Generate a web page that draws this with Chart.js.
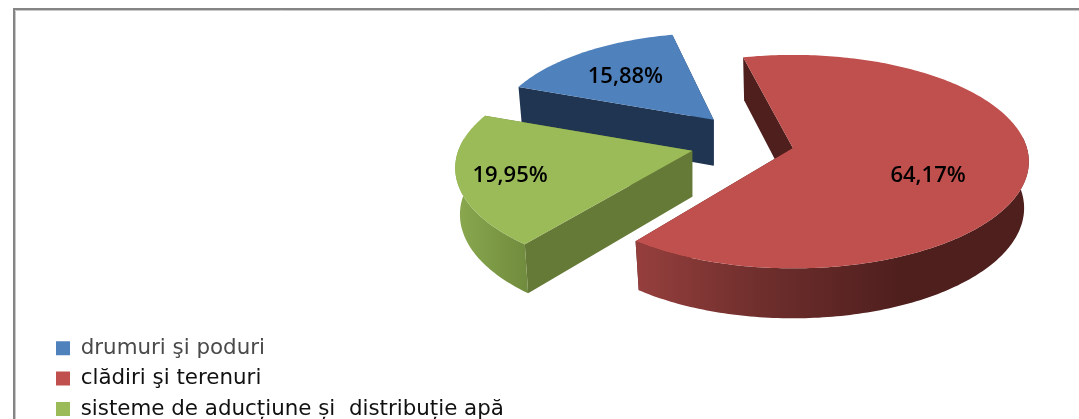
<!DOCTYPE html>
<html>
<head>
<meta charset="utf-8">
<script src="https://cdn.jsdelivr.net/npm/chart.js@4/dist/chart.umd.js"></script>
<style>
html, body { margin: 0; padding: 0; background: #fff; overflow: hidden; }
#wrap { position: absolute; left: 0; top: 0; width: 1079px; height: 419px; }
</style>
</head>
<body>
<div id="wrap"><canvas id="pie"></canvas></div>
<script>
const categories = ['drumuri şi poduri', 'clădiri şi terenuri', 'sisteme de aducțiune și  distribuție apă'];
const shares = [15.88, 64.17, 19.95];
const faceColors = ['#4f81bd', '#c0504d', '#9bbb59'];
const wallColors = ['#1f3551', '#4f1f1e', '#667a37'];
const legendTextColors = ['#4a4a4a', '#111111', '#111111'];
const explode = [42, 52, 52];
const explodeLift = [0.72, 0.577, 0.577];
const sliceScale = [0.93, 1, 1];
const sliceTurn = [1.5, 0, 1.6];
const slicePersp = [0.127, 0.127, 0.16];
const labelRadius = [0.59, 0.615, 0.79];
const labelTurn = [0, 13, 0];

// tilted pie plane
const view = { cx: 742, cy: 142, sx: 234, sy: 105, depth: 46, wallX: 0.98, wallY: 1.033 };

function project(ax, ay, i, u, v, low) {
    const w = 1 - slicePersp[i] * v;
    const s = sliceScale[i];
    const kx = low ? view.wallX : 1;
    const ky = low ? view.wallY : 1;
    return [
        ax + view.sx * s * kx * u / w,
        ay + view.sy * s * ky * v / w + (low ? view.depth : 0)
    ];
}

function rimPoints(ax, ay, i, a0, a1, low, frontOnly) {
    const pts = [];
    const n = Math.ceil((a1 - a0) * 180 / Math.PI);
    for (let k = 0; k <= n; k++) {
        const a = a0 + (a1 - a0) * k / n;
        if (frontOnly && Math.sin(a) < -0.12) continue;
        pts.push(project(ax, ay, i, Math.cos(a), Math.sin(a), low));
    }
    return pts;
}

function fillPoly(ctx, pts, fill) {
    ctx.beginPath();
    pts.forEach((p, k) => k ? ctx.lineTo(p[0], p[1]) : ctx.moveTo(p[0], p[1]));
    ctx.closePath();
    ctx.fillStyle = fill;
    ctx.fill();
}

function apexOf(arc, i) {
    const mid = (arc.startAngle + arc.endAngle) / 2;
    return [
        view.cx + explode[i] * Math.cos(mid),
        view.cy + explode[i] * explodeLift[i] * Math.sin(mid)
    ];
}

function rimGradient(ctx, i) {
    // side of the pie gets darker to the right
    if (i === 1) {
        const g = ctx.createLinearGradient(638, 0, 900, 0);
        g.addColorStop(0, '#953f3d');
        g.addColorStop(0.45, '#702f2d');
        g.addColorStop(1, '#4f1f1e');
        return g;
    }
    if (i === 2) {
        const g = ctx.createLinearGradient(455, 0, 526, 0);
        g.addColorStop(0, '#8aa94f');
        g.addColorStop(1, '#718c3e');
        return g;
    }
    return wallColors[i];
}

const pie3d = {
    id: 'pie3d',
    beforeDatasetsDraw(chart) {
        const ctx = chart.ctx;
        const arcs = chart.getDatasetMeta(0).data;
        [0, 1, 2].forEach(i => {
            const arc = arcs[i];
            const turn = sliceTurn[i] * Math.PI / 180;
            const a0 = arc.startAngle + turn, a1 = arc.endAngle + turn;
            const [ax, ay] = apexOf(arc, i);
            const top = rimPoints(ax, ay, i, a0, a1, false, false);
            const low = rimPoints(ax, ay, i, a0, a1, true, false);
            const apexLow = project(ax, ay, i, 0, 0, true);
            fillPoly(ctx, [[ax, ay], top[0], low[0], apexLow], wallColors[i]);
            fillPoly(ctx, [[ax, ay], top[top.length - 1], low[low.length - 1], apexLow], wallColors[i]);
            const frontTop = rimPoints(ax, ay, i, a0, a1, false, true);
            const frontLow = rimPoints(ax, ay, i, a0, a1, true, true);
            if (frontTop.length > 1) {
                fillPoly(ctx, frontTop.concat(frontLow.reverse()), rimGradient(ctx, i));
            }
            fillPoly(ctx, [[ax, ay]].concat(top), faceColors[i]);
        });
        return false;
    },
    afterDraw(chart) {
        const ctx = chart.ctx;
        const arcs = chart.getDatasetMeta(0).data;
        ctx.save();
        ctx.font = '600 22px "Open Sans"';
        ctx.fillStyle = '#000';
        ctx.textAlign = 'center';
        ctx.textBaseline = 'middle';
        arcs.forEach((arc, i) => {
            const [ax, ay] = apexOf(arc, i);
            const mid = (arc.startAngle + arc.endAngle) / 2 + labelTurn[i] * Math.PI / 180;
            const p = project(ax, ay, 1, labelRadius[i] * Math.cos(mid), labelRadius[i] * Math.sin(mid), false);
            ctx.fillText(shares[i].toFixed(2).replace('.', ',') + '%', p[0], p[1]);
        });
        ctx.restore();
    },
    afterLayout(chart) {
        // legend sits in the lower left corner of the frame
        const lg = chart.legend;
        lg.left = 47;
        lg.right = 47 + lg.width;
        lg.top = 328.5;
        lg.bottom = 328.5 + lg.height;
    },
    beforeDraw(chart) {
        const ctx = chart.ctx;
        ctx.save();
        ctx.lineWidth = 1;
        ctx.strokeStyle = '#c8c8c8';
        ctx.beginPath();
        ctx.moveTo(15.5, 419);
        ctx.lineTo(15.5, 10.5);
        ctx.lineTo(1079, 10.5);
        ctx.stroke();
        ctx.lineWidth = 2;
        ctx.strokeStyle = '#858585';
        ctx.beginPath();
        ctx.moveTo(14, 419);
        ctx.lineTo(14, 9);
        ctx.lineTo(1079, 9);
        ctx.stroke();
        ctx.restore();
    }
};

new Chart(document.getElementById('pie'), {
    type: 'pie',
    data: {
        labels: categories,
        datasets: [{
            data: shares,
            backgroundColor: faceColors,
            offset: explode
        }]
    },
    options: {
        responsive: true,
        maintainAspectRatio: false,
        animation: false,
        rotation: 289,
        plugins: {
            tooltip: { enabled: false },
            legend: {
                position: 'left',
                align: 'start',
                labels: {
                    boxWidth: 14,
                    boxHeight: 14,
                    padding: 9,
                    color: '#111',
                    font: { family: 'DejaVu Sans', size: 21.4 },
                    generateLabels(chart) {
                        return categories.map((c, i) => ({
                            text: c,
                            fillStyle: faceColors[i],
                            strokeStyle: faceColors[i],
                            lineWidth: 0,
                            fontColor: legendTextColors[i],
                            index: i
                        }));
                    }
                }
            }
        }
    },
    plugins: [pie3d]
});
</script>
</body>
</html>
